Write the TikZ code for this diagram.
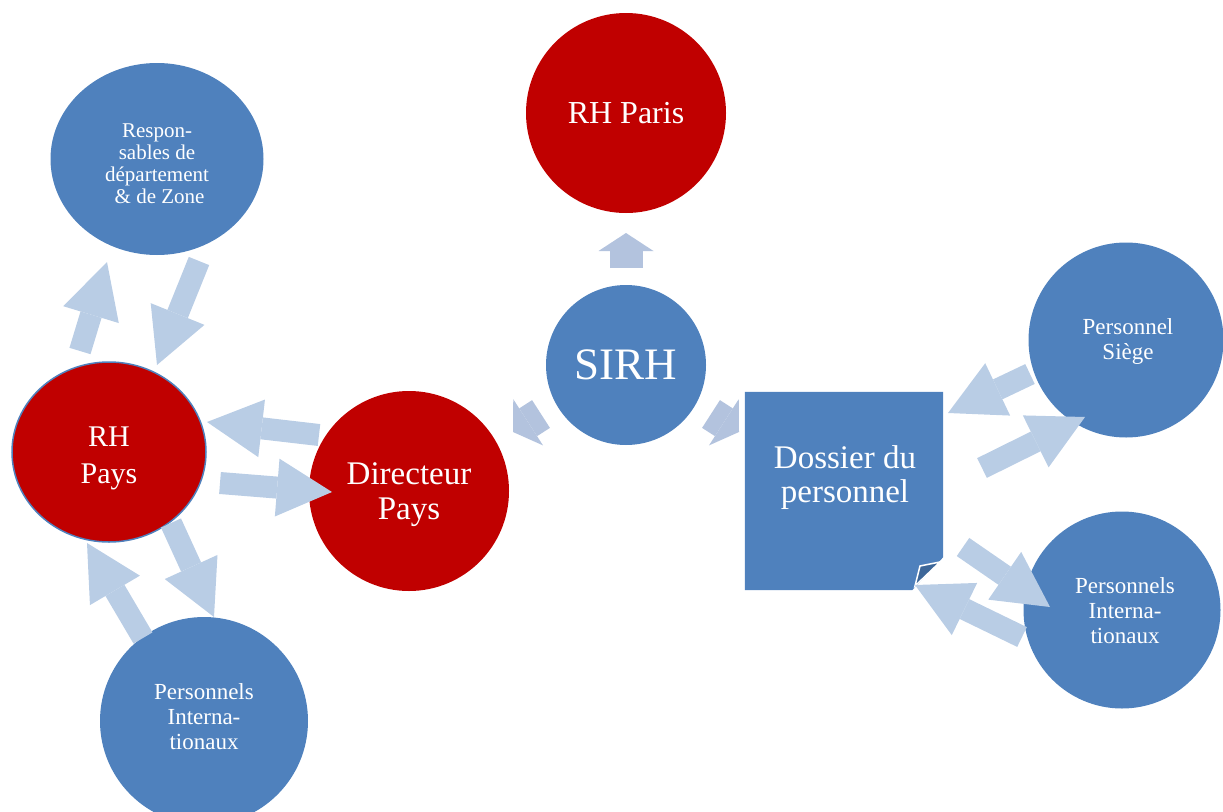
\documentclass[tikz,border=0pt]{standalone}
\usepackage{fontspec}
\setmainfont{Liberation Serif}
\usepackage{xcolor}
\usepackage{tikz}
\usetikzlibrary{shapes.geometric, arrows.meta, positioning}
\definecolor{rhred}{HTML}{C00000}
\definecolor{rhblue}{HTML}{4F81BD}
\definecolor{flowblue}{HTML}{B9CDE5}
\definecolor{stubblue}{HTML}{B3C3DE}
\definecolor{foldblue}{HTML}{3D6799}
\tikzset{
  redbubble/.style={circle, fill=rhred, text=white, align=center, inner sep=0pt},
  bluebubble/.style={circle, fill=rhblue, text=white, align=center, inner sep=0pt},
  label/.style={text=white, align=center, inner sep=0pt},
  small/.style={font=\fontsize{23}{25}\selectfont},
  flow/.style={draw=flowblue, line width=22pt, -{Triangle[length=55pt, width=58pt, line width=0pt]}},
  stub/.style={draw=stubblue, line width=33pt, -{Triangle[length=18pt, width=55pt, line width=0pt]}},
}

\begin{document}
\begin{tikzpicture}[x=1pt, y=-1pt]
    \useasboundingbox (0,0) rectangle (1223,811);

    % bubbles
    \node[redbubble, minimum size=200pt, font=\fontsize{32}{38}\selectfont] (rhparis) at (626,113) {RH Paris};
    \node[bluebubble, minimum size=160pt, font=\fontsize{45}{50}\selectfont] (sirh) at (626,365) {SIRH};
    \node[redbubble, minimum size=200pt] (directeur) at (409,491) {};
    \node[label, font=\fontsize{33}{35}\selectfont] (directeurtext) at (409,495) {Directeur\\Pays};
    \node[ellipse, fill=rhred, draw=rhblue, line width=1.5pt, inner sep=0pt,
          minimum width=194pt, minimum height=180pt] (rhpays) at (109,452) {};
    \node[label, font=\fontsize{30}{37}\selectfont] (rhpaystext) at (109,458) {RH\\Pays};
    \node[ellipse, fill=rhblue, inner sep=0pt, minimum width=213pt, minimum height=192pt] (resp) at (157,159) {};
    \node[label, font=\fontsize{21}{22}\selectfont] (resptext) at (157,164)
          {Respon-\\sables de\\département\\\ \& de Zone};
    \node[bluebubble, minimum size=208pt] (pileft) at (204,721) {};
    \node[label, small] (pilefttext) at (204,717) {Personnels\\Interna-\\tionaux};
    \node[bluebubble, minimum size=195pt] (siege) at (1126,340) {};
    \node[label, small] (siegetext) at (1128,341) {Personnel\\Siège};
    \node[bluebubble, minimum size=197pt] (piright) at (1122,610) {};
    \node[label, small] (pirighttext) at (1125,611) {Personnels\\Interna-\\tionaux};

    % dossier with folded corner
    \node[minimum width=198pt, minimum height=198pt, inner sep=0pt] (dossier) at (844,491) {};
    \fill[rhblue] (dossier.north west) -- (dossier.north east) -- ([yshift=33pt]dossier.south east)
      -- ([xshift=-31pt]dossier.south east) -- (dossier.south west) -- cycle;
    \fill[foldblue, draw=white, line width=1.5pt] (920,566) -- (940,562) -- (915,586) -- cycle;
    \node[label, font=\fontsize{33}{34}\selectfont] (dossiertext) at (845,478) {Dossier du\\personnel};

    % arrow ends
    \coordinate (a1) at (80,351);   \coordinate (b1) at (107,262);
    \coordinate (a2) at (199,261);  \coordinate (b2) at (157,365);
    \coordinate (a3) at (319,435);  \coordinate (b3) at (207,422);
    \coordinate (a4) at (220,483);  \coordinate (b4) at (332,492);
    \coordinate (a5) at (171,523);  \coordinate (b5) at (214,617);
    \coordinate (a6) at (143,638);  \coordinate (b6) at (87,543);
    \coordinate (a7) at (626,268);  \coordinate (b7) at (626,233);
    \coordinate (a8) at (541,414);  \coordinate (b8) at (513,432);
    \coordinate (a9) at (711,414);  \coordinate (b9) at (739,432);
    \coordinate (a10) at (1030,374); \coordinate (b10) at (948,413);
    \coordinate (a11) at (982,468);  \coordinate (b11) at (1085,417);
    \coordinate (a12) at (963,547);  \coordinate (b12) at (1050,607);
    \coordinate (a13) at (1022,637); \coordinate (b13) at (915,585);

    \foreach \i in {1,...,6,10,11,12,13}
      \draw[flow] (a\i) -- (b\i);
    \foreach \i in {7,8,9}
      \draw[stub] (a\i) -- (b\i);
\end{tikzpicture}
\end{document}
